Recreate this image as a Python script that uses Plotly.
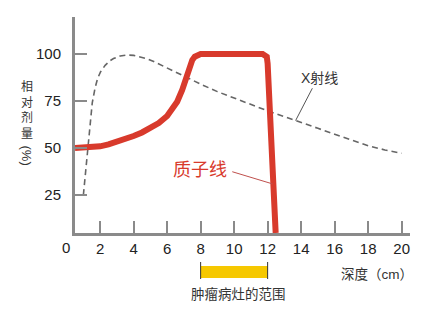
import plotly.graph_objects as go

# ---- data ----
proton_x = [0.5, 1, 1.5, 2, 2.5, 3, 3.5, 4, 4.5, 5, 5.5, 6, 6.2, 6.6, 6.9, 7.1, 7.3, 7.5, 7.65, 7.8, 8,
            11.7, 11.85, 11.95, 12.0, 12.18, 12.34, 12.48]
proton_y = [50, 50.1, 50.4, 50.9, 51.9, 53.2, 54.6, 56.4, 58.3, 60.5, 63.3, 67, 69.3, 74.6, 80.9, 86.2, 92.4, 96.8, 98.6, 99.6, 100,
            100, 99.6, 98.5, 95, 59.6, 33, 4.8]

xray_x = [1.0, 1.27, 1.4, 1.53, 1.7, 1.85, 2.03, 2.3, 2.6, 2.8, 3.2, 3.6, 4.0, 4.4, 4.8, 5.2, 5.6, 6, 6.5, 7,
          8, 9, 10, 11, 12, 13, 14, 15, 16, 17, 18, 19, 20]
xray_y = [25, 50, 63, 74, 82, 87, 90.6, 94, 96.5, 97.6, 99, 99.5, 99.3, 98.6, 97.5, 96, 94.3, 92.5, 90.3, 88,
          84, 80, 76.5, 73, 69.8, 66.7, 63.8, 60.5, 57.3, 54.2, 51.2, 49, 47.2]

x_ticks = [2, 4, 6, 8, 10, 12, 14, 16, 18, 20]
y_ticks = [25, 50, 75, 100]
tumor_range = [8, 12]
y_title_chars = ["相", "对", "剂", "量"]
y_title_unit = "(%)"

RED = "#d83a2c"
AXIS = "#8a8a8a"
TXT = "#333333"
FONT = "Liberation Sans, Noto Sans CJK SC, sans-serif"


def py(p):  # pixel row -> paper y
    return (233 - p) / 216


def px(p):  # pixel column -> paper x
    return (p - 75) / 335


fig = go.Figure()
fig.add_trace(go.Scatter(x=xray_x, y=xray_y, mode="lines",
                         line=dict(color="#666666", width=1.6, dash="6px,4px"),
                         hoverinfo="skip"))
fig.add_trace(go.Scatter(x=proton_x, y=proton_y, mode="lines",
                         line=dict(color=RED, width=6),
                         hoverinfo="skip"))

fig.update_layout(
    width=432, height=312,
    margin=dict(l=75, r=22, t=17, b=79),
    paper_bgcolor="white", plot_bgcolor="white",
    showlegend=False,
    font=dict(family=FONT, color="#222222"),
    xaxis=dict(range=[0.5, 20.5], tickvals=x_ticks, ticktext=[str(v) for v in x_ticks],
               showgrid=False, zeroline=False, showline=True, linecolor=AXIS, linewidth=3,
               ticks="inside", ticklen=12, tickwidth=1.5, tickcolor=AXIS,
               tickfont=dict(size=15, color="#222222", family=FONT)),
    yaxis=dict(range=[4.8, 119.7], tickvals=y_ticks, ticktext=[str(v) for v in y_ticks],
               showgrid=False, zeroline=False, showline=True, linecolor=AXIS, linewidth=3,
               ticks="inside", ticklen=12, tickwidth=1.5, tickcolor=AXIS, ticklabelstandoff=8,
               tickfont=dict(size=15, color="#222222", family=FONT)),
)

# "0" label at origin (outside x range)
fig.add_annotation(x=px(66), xref="paper", y=py(247), yref="paper", text="0", showarrow=False,
                   font=dict(size=15, color="#222222", family=FONT), xanchor="center", yanchor="middle")

# y-axis title (vertical)
fig.add_annotation(xref="paper", yref="paper", x=px(26.5), y=py(110),
                   text="<br>".join(y_title_chars), showarrow=False,
                   font=dict(size=12, color=TXT, family=FONT),
                   xanchor="center", yanchor="middle")
fig.add_annotation(xref="paper", yref="paper", x=px(26.5), y=py(155),
                   text=y_title_unit, textangle=90, showarrow=False,
                   font=dict(size=13, color=TXT, family=FONT),
                   xanchor="center", yanchor="middle")

# curve labels
fig.add_annotation(x=15.1, y=87.2, text="X射线", showarrow=False,
                   font=dict(size=14, color=TXT, family=FONT))
fig.add_shape(type="line", x0=14.67, y0=81.8, x1=13.67, y1=64.6,
              line=dict(color="#555555", width=1))
fig.add_annotation(x=7.94, y=38.3, text="质子线", showarrow=False,
                   font=dict(size=18, color=RED, family=FONT))
fig.add_shape(type="line", x0=9.89, y0=37.4, x1=12.3, y1=30.9,
              line=dict(color="#c0504d", width=1))

# tumor range bar
fig.add_shape(type="rect", xref="x", yref="paper", x0=tumor_range[0], x1=tumor_range[1],
              y0=py(278), y1=py(266),
              fillcolor="#f6c800", line=dict(width=0), layer="above")
for xv in tumor_range:
    fig.add_shape(type="line", xref="x", yref="paper", x0=xv, x1=xv,
                  y0=py(279), y1=py(262),
                  line=dict(color="#333333", width=1))
fig.add_annotation(x=10.27, xref="x", y=py(294), yref="paper",
                   text="肿瘤病灶的范围", showarrow=False,
                   font=dict(size=13.5, color=TXT, family=FONT), yanchor="middle")
fig.add_annotation(x=18.5, xref="x", y=py(274), yref="paper",
                   text="深度（cm）", showarrow=False,
                   font=dict(size=13.5, color=TXT, family=FONT), yanchor="middle")

fig.write_html("out.html")
